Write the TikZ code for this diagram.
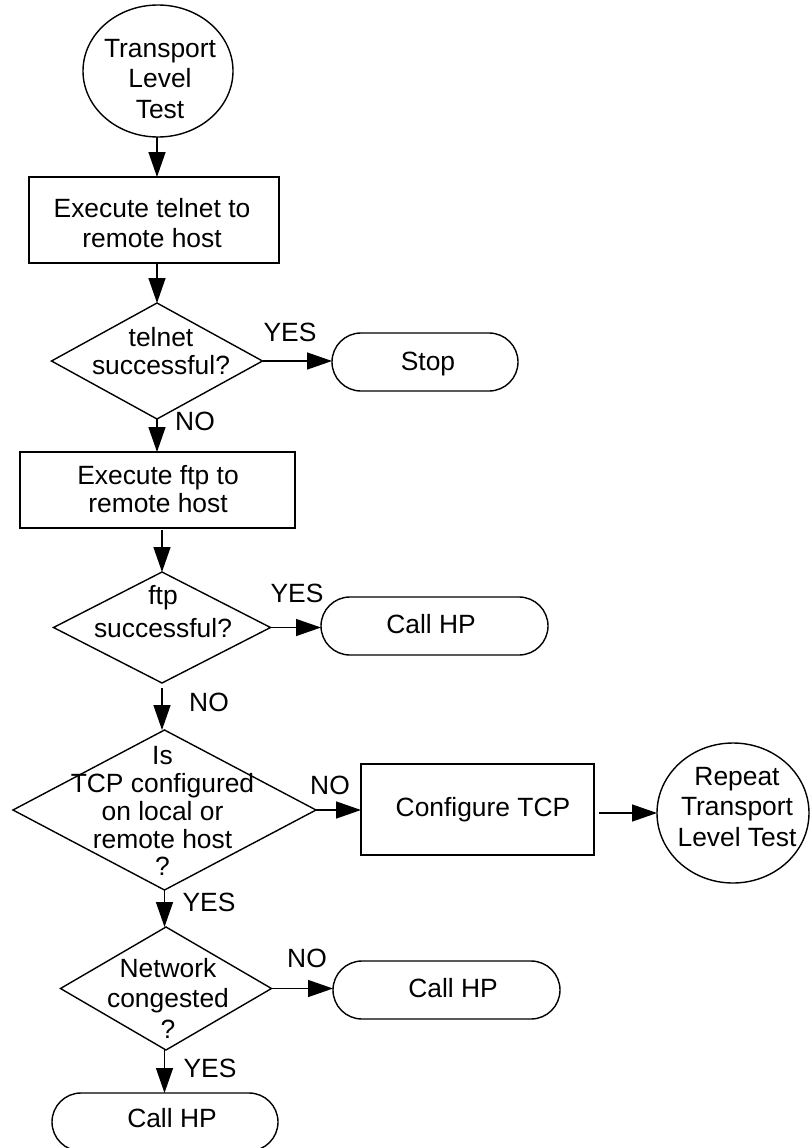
\documentclass[tikz,border=0pt]{standalone}
\usepackage{fontspec}
\setmainfont{Liberation Sans}
\usetikzlibrary{shapes.geometric,shapes.misc,arrows.meta}

\tikzset{
  every node/.style={inner sep=0pt, outer sep=0pt},
  shapeline/.style={draw=black, line width=1.4pt},
  oval/.style={shapeline, ellipse},
  stepbox/.style={shapeline, rectangle},
  decision/.style={shapeline, diamond},
  terminal/.style={shapeline, rounded rectangle},
  txt/.style={align=center, font=\fontsize{26.4}{#1}\selectfont},
  txt/.default=30,
  lbl/.style={font=\fontsize{26.4}{30}\selectfont},
  arr/.style={line width=1.4pt, -{Triangle[length=25pt,width=17pt]}},
}

\begin{document}
\begin{tikzpicture}[x=1pt,y=-1pt]
\useasboundingbox (0,0) rectangle (809,1148);

% ---- shapes ----
\node[oval, minimum width=150, minimum height=132] (e1) at (158,71) {};
\node[stepbox, minimum width=250, minimum height=86] (b1) at (154,220) {};
\node[decision, minimum width=211, minimum height=116] (d1) at (157,361) {};
\node[terminal, minimum width=186, minimum height=58] (s1) at (425,362) {};
\node[stepbox, minimum width=275, minimum height=76] (b2) at (157.5,490) {};
\node[decision, minimum width=217, minimum height=111] (d2) at (162,627.5) {};
\node[terminal, minimum width=227, minimum height=58] (c2) at (434.5,626) {};
\node[decision, minimum width=303, minimum height=160] (d3) at (164.5,810) {};
\node[stepbox, minimum width=233, minimum height=91] (b3) at (477.5,809.5) {};
\node[oval, minimum width=152, minimum height=140] (e2) at (733,813) {};
\node[decision, minimum width=211, minimum height=123] (d4) at (166,988.5) {};
\node[terminal, minimum width=227, minimum height=58] (c3) at (446.5,990) {};
\node[terminal, minimum width=226, minimum height=58] (c4) at (165,1122) {};

% ---- texts ----
\node[txt=30.5] (t1) at (160,81.4) {\strut Transport\\\strut Level\\\strut Test};
\node[txt=30] (t2) at (152,226) {\strut Execute telnet to\\\strut remote host};
\node[txt=26.6] (t3) at (161,354.7) {\strut telnet\\\strut successful?};
\node[txt=30] (t4) at (428,364) {\strut Stop};
\node[txt=28] (t5) at (158,492.4) {\strut Execute ftp to\\\strut remote host};
\node[txt=33] (t6) at (163,613.9) {\strut ftp\\\strut successful?};
\node[txt=30] (t7) at (431,627) {\strut Call HP};
\node[txt=26.4] (t8) at (162.5,814.8) {\strut Is\\\strut TCP configured\\\strut on local or\\\strut remote host\\\strut ?};
\node[txt=30] (t9) at (483,810) {\strut Configure TCP};
\node[txt=30.5] (t10) at (737,809.4) {\strut Repeat\\\strut Transport\\\strut Level Test};
\node[txt=30.5] (t11) at (168,1001.7) {\strut Network\\\strut congested\\\strut ?};
\node[txt=30] (t12) at (453,991) {\strut Call HP};
\node[txt=30] (t13) at (172,1121) {\strut Call HP};

% ---- branch labels ----
\node[lbl] (y1) at (290,332) {YES};
\node[lbl] (n1) at (195,421) {NO};
\node[lbl] (y2) at (297,593) {YES};
\node[lbl] (n2) at (209,702) {NO};
\node[lbl] (n3) at (330,785) {NO};
\node[lbl] (y3) at (209,902) {YES};
\node[lbl] (n4) at (307,958) {NO};
\node[lbl] (y4) at (210,1068) {YES};

% ---- connectors ----
\draw[arr] (e1.south -| d1.north) -- (b1.north -| d1.north);
\draw[arr] (b1.south -| d1.north) -- (d1.north);
\draw[arr] (d1.east) -- (d1.east -| s1.west);
\draw[arr] (d1.south) -- (d1.south |- b2.north);
\draw[arr, shorten <=2pt] (b2.south -| d2.north) -- (d2.north);
\draw[arr] (d2.east) -- (d2.east -| c2.west);
\draw[arr, shorten <=5pt] (d2.south) -- (d2.south |- d3.north);
\draw[arr] (d3.east) -- (d3.east -| b3.west);
\draw[arr, shorten <=5pt] (b3.east |- e2.west) -- (e2.west);
\draw[arr] (d3.south) -- (d3.south |- d4.north);
\draw[arr] (d4.east) -- (d4.east -| c3.west);
\draw[arr] (d4.south -| d3.south) -- (d3.south |- c4.north);
\end{tikzpicture}
\end{document}
